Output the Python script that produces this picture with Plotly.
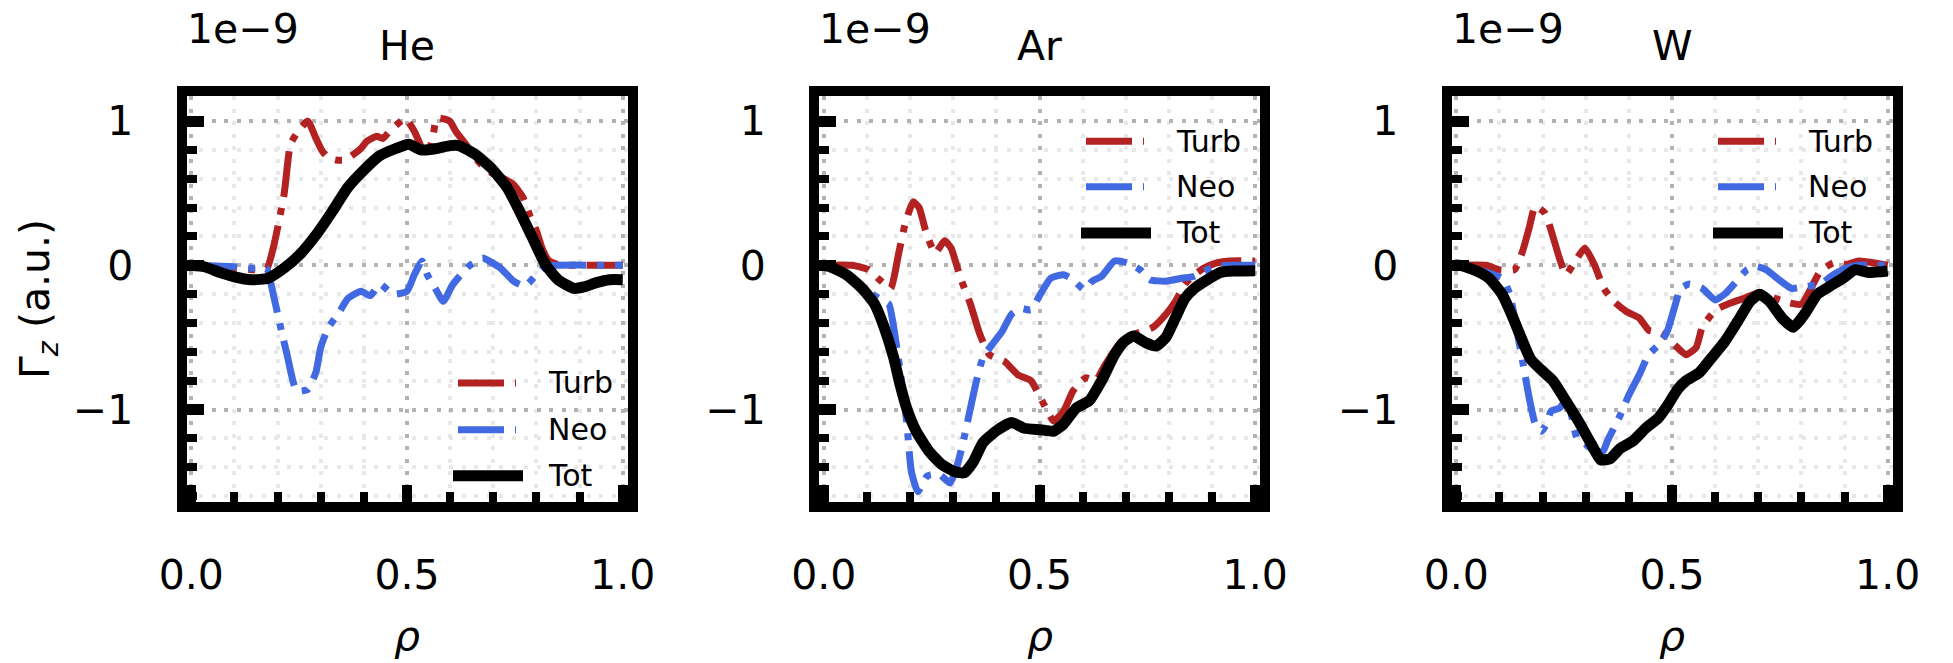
import plotly.graph_objects as go

# ---------------- data (flux profiles, units of 1e-9) ----------------
species = ["He", "Ar", "W"]

he_turb_rho = [0, 0.05, 0.10, 0.14, 0.174, 0.19, 0.215, 0.23, 0.248, 0.27, 0.289, 0.304, 0.318, 0.335,
               0.355, 0.37, 0.393, 0.407, 0.43, 0.444, 0.46, 0.478, 0.496, 0.517, 0.539, 0.55, 0.561,
               0.569, 0.599, 0.613, 0.636, 0.658, 0.68, 0.702, 0.725, 0.747, 0.769, 0.784, 0.80, 0.813,
               0.828, 0.85, 0.9, 0.95, 1.0]
he_turb = [0, -0.01, -0.02, -0.03, -0.03, 0.12, 0.49, 0.84, 0.93, 1.0, 0.88, 0.79, 0.745, 0.73,
           0.73, 0.756, 0.81, 0.86, 0.895, 0.88, 0.93, 0.98, 1.02, 0.93, 0.79, 0.79, 0.91,
           1.02, 1.0, 0.93, 0.84, 0.745, 0.675, 0.63, 0.60, 0.56, 0.47, 0.35, 0.24, 0.12,
           0.035, 0.005, 0.0, 0.0, 0.0]

he_neo_rho = [0, 0.10, 0.14, 0.174, 0.19, 0.207, 0.222, 0.244, 0.27, 0.289, 0.30, 0.318, 0.34, 0.363,
              0.393, 0.415, 0.437, 0.467, 0.50, 0.517, 0.535, 0.547, 0.565, 0.584, 0.606, 0.643, 0.675,
              0.717, 0.747, 0.773, 0.80, 0.82, 0.85, 1.0]
he_neo = [0, -0.01, -0.02, -0.02, -0.2, -0.43, -0.62, -0.87, -0.86, -0.74, -0.57, -0.43, -0.34, -0.23,
          -0.18, -0.21, -0.13, -0.20, -0.18, -0.065, 0.03, -0.065, -0.157, -0.25, -0.134, -0.007, 0.05,
          -0.02, -0.11, -0.145, -0.065, -0.01, 0, 0]

he_tot_rho = [0, 0.03, 0.067, 0.10, 0.14, 0.178, 0.215, 0.25, 0.289, 0.326, 0.363, 0.40, 0.437, 0.474,
              0.504, 0.532, 0.569, 0.60, 0.62, 0.658, 0.695, 0.732, 0.761, 0.791, 0.821, 0.85, 0.887,
              0.91, 0.939, 0.969, 1.0]
he_tot = [0, -0.01, -0.05, -0.08, -0.10, -0.09, -0.02, 0.07, 0.21, 0.37, 0.54, 0.66, 0.76, 0.81,
          0.84, 0.80, 0.81, 0.83, 0.83, 0.77, 0.675, 0.54, 0.375, 0.19, 0.005, -0.10, -0.16,
          -0.15, -0.12, -0.10, -0.10]

ar_turb_rho = [0, 0.066, 0.103, 0.133, 0.155, 0.173, 0.188, 0.207, 0.221, 0.236, 0.258, 0.28, 0.295,
               0.317, 0.34, 0.362, 0.384, 0.42, 0.45, 0.48, 0.506, 0.533, 0.556, 0.578, 0.607, 0.63,
               0.652, 0.689, 0.718, 0.763, 0.793, 0.815, 0.837, 0.859, 0.881, 0.911, 0.94, 1.0]
ar_turb = [0, 0.0, -0.03, -0.11, -0.16, 0.074, 0.28, 0.44, 0.40, 0.24, 0.085, 0.17, 0.12,
           -0.09, -0.27, -0.48, -0.62, -0.67, -0.76, -0.80, -0.94, -1.08, -1.01, -0.87, -0.78, -0.80,
           -0.69, -0.53, -0.48, -0.43, -0.34, -0.25, -0.13, -0.065, -0.02, 0.016, 0.03, 0.03]

ar_neo_rho = [0, 0.05, 0.103, 0.133, 0.151, 0.162, 0.177, 0.192, 0.203, 0.218, 0.24, 0.268, 0.293,
              0.31, 0.325, 0.34, 0.354, 0.369, 0.39, 0.413, 0.435, 0.458, 0.48, 0.502, 0.526, 0.556,
              0.578, 0.604, 0.622, 0.644, 0.674, 0.704, 0.733, 0.756, 0.793, 0.83, 0.859, 0.881,
              0.911, 0.95, 1.0]
ar_neo = [0, -0.06, -0.18, -0.24, -0.27, -0.43, -0.73, -1.08, -1.43, -1.57, -1.46, -1.45, -1.51,
          -1.38, -1.20, -0.99, -0.80, -0.64, -0.55, -0.46, -0.34, -0.30, -0.31, -0.20, -0.09, -0.065,
          -0.10, -0.17, -0.11, -0.076, 0.03, 0.016, -0.03, -0.10, -0.11, -0.09, -0.076, -0.04,
          -0.007, 0, 0]

ar_tot_rho = [0, 0.015, 0.052, 0.089, 0.118, 0.14, 0.162, 0.177, 0.192, 0.214, 0.244, 0.273, 0.303,
              0.325, 0.347, 0.369, 0.399, 0.435, 0.465, 0.502, 0.533, 0.556, 0.585, 0.615, 0.644,
              0.674, 0.696, 0.718, 0.748, 0.77, 0.793, 0.815, 0.837, 0.859, 0.889, 0.919, 0.948, 1.0]
ar_tot = [0, -0.01, -0.065, -0.16, -0.27, -0.43, -0.64, -0.83, -0.99, -1.15, -1.29, -1.38, -1.43,
          -1.44, -1.36, -1.23, -1.15, -1.09, -1.13, -1.14, -1.15, -1.10, -0.99, -0.94, -0.80,
          -0.62, -0.53, -0.49, -0.54, -0.56, -0.50, -0.365, -0.23, -0.16, -0.10, -0.05, -0.04, -0.037]

w_turb_rho = [0, 0.069, 0.098, 0.135, 0.154, 0.169, 0.183, 0.206, 0.22, 0.239, 0.254, 0.276, 0.298,
              0.32, 0.342, 0.365, 0.394, 0.424, 0.446, 0.476, 0.505, 0.533, 0.556, 0.57, 0.592, 0.607,
              0.637, 0.666, 0.703, 0.74, 0.77, 0.8, 0.822, 0.844, 0.874, 0.903, 0.933, 0.97, 1.0]
w_turb = [0, 0.0, -0.03, -0.03, 0.10, 0.26, 0.41, 0.36, 0.24, 0.05, -0.065, 0.03, 0.12,
          0.005, -0.16, -0.25, -0.32, -0.365, -0.45, -0.47, -0.55, -0.62, -0.57, -0.43, -0.34, -0.30,
          -0.26, -0.23, -0.19, -0.23, -0.26, -0.27, -0.16, -0.04, 0.016, 0.005, 0.03, 0.016, 0.0]

w_neo_rho = [0, 0.06, 0.106, 0.124, 0.139, 0.154, 0.169, 0.183, 0.198, 0.209, 0.22, 0.239, 0.257,
             0.28, 0.30, 0.32, 0.34, 0.35, 0.38, 0.40, 0.424, 0.446, 0.476, 0.49, 0.505, 0.52, 0.54,
             0.57, 0.60, 0.622, 0.644, 0.674, 0.696, 0.718, 0.748, 0.777, 0.814, 0.844, 0.874,
             0.903, 0.933, 1.0]
w_neo = [0, -0.04, -0.09, -0.20, -0.43, -0.67, -0.92, -1.10, -1.15, -1.10, -1.01, -0.99, -0.93,
         -1.2, -1.24, -1.29, -1.29, -1.22, -1.04, -0.90, -0.76, -0.62, -0.53, -0.45, -0.30, -0.16,
         -0.13, -0.16, -0.24, -0.20, -0.13, -0.03, -0.007, -0.03, -0.10, -0.16, -0.145, -0.13,
         -0.065, -0.02, 0, 0]

w_tot_rho = [0, 0.01, 0.047, 0.076, 0.106, 0.128, 0.15, 0.172, 0.195, 0.224, 0.254, 0.283, 0.313,
             0.335, 0.357, 0.38, 0.409, 0.439, 0.468, 0.49, 0.513, 0.533, 0.563, 0.592, 0.622,
             0.652, 0.681, 0.703, 0.726, 0.755, 0.781, 0.807, 0.837, 0.866, 0.896, 0.925, 0.955, 1.0]
w_tot = [0, 0, -0.04, -0.09, -0.20, -0.34, -0.50, -0.65, -0.72, -0.80, -0.94, -1.08, -1.24,
         -1.35, -1.34, -1.27, -1.22, -1.13, -1.06, -0.97, -0.86, -0.80, -0.745, -0.64, -0.53,
         -0.39, -0.25, -0.20, -0.25, -0.365, -0.43, -0.34, -0.20, -0.145, -0.09, -0.03, -0.05, -0.04]

component_names = ["Turb", "Neo", "Tot"]
profiles = {
    "He": [(he_turb_rho, he_turb), (he_neo_rho, he_neo), (he_tot_rho, he_tot)],
    "Ar": [(ar_turb_rho, ar_turb), (ar_neo_rho, ar_neo), (ar_tot_rho, ar_tot)],
    "W": [(w_turb_rho, w_turb), (w_neo_rho, w_neo), (w_tot_rho, w_tot)],
}

# ---------------- styling ----------------
W, H = 1953, 663
FONT = "DejaVu Sans"
RED, BLUE, BLACK = "#B22222", "#4169E1", "#000000"
DASHDOT = "46px,11px,7px,11px"
styles = [dict(color=RED, width=7, dash=DASHDOT),
          dict(color=BLUE, width=7, dash=DASHDOT),
          dict(color=BLACK, width=11, dash="solid")]

SPINE = 10
panel_x0 = [181.5, 814.0, 1446.5]   # pixel of rho = 0 (spine centre)
panel_w = 451.0
y_zero_px, y_unit_px = 265.3, 144.2
inner_top, inner_bot = 96.0, 502.0
y_rng = [-(inner_bot - y_zero_px) / y_unit_px, (y_zero_px - inner_top) / y_unit_px]
pad = (SPINE / 2) / panel_w
x_rng = [-pad, 1 + pad]

legend_pos = {  # left end of handle, rows' y (px)
    "He": (458, [383, 429.7, 475.7]),
    "Ar": (1086, [141.3, 186.8, 233]),
    "W": (1718, [141.3, 186.8, 233]),
}

fig = go.Figure()
shapes, annotations = [], []

grid_major = dict(showgrid=True, gridcolor="#b3b3b3", griddash="4px,8.5px", gridwidth=4)
grid_minor = dict(showgrid=True, gridcolor="#e8e8e8", griddash="4px,8.5px", gridwidth=4)

for i, sp in enumerate(species):
    n = "" if i == 0 else str(i + 1)
    x0 = panel_x0[i]
    dom_x = [(x0 + SPINE / 2) / W, (x0 + panel_w - SPINE / 2) / W]
    for (rho, val), st in zip(profiles[sp], styles):
        fig.add_trace(go.Scatter(
            x=rho, y=val, mode="lines", xaxis="x" + n, yaxis="y" + n,
            line=dict(color=st["color"], width=st["width"], dash=st["dash"],
                      shape="spline", smoothing=0.5),
            showlegend=False, hoverinfo="skip"))

    fig.layout["xaxis" + n] = dict(
        domain=dom_x, range=x_rng, anchor="y" + n, automargin=False,
        tick0=0, dtick=0.5, tickformat=".1f",
        ticks="inside", ticklen=17, tickwidth=10, tickcolor="black",
        showline=True, linewidth=SPINE, linecolor="black", mirror=True,
        zeroline=False, ticklabelstandoff=28,
        tickfont=dict(family=FONT, size=41, color="black"),
        minor=dict(dtick=0.1, tick0=0, ticks="inside", ticklen=10, tickwidth=8,
                   tickcolor="black", **grid_minor),
        **grid_major)
    fig.layout["yaxis" + n] = dict(
        domain=[1 - inner_bot / H, 1 - inner_top / H], range=y_rng, anchor="x" + n,
        automargin=False, tick0=0, dtick=1,
        ticks="inside", ticklen=17, tickwidth=11, tickcolor="black",
        showline=True, linewidth=SPINE, linecolor="black", mirror=True,
        zeroline=False, ticklabelstandoff=35,
        tickfont=dict(family=FONT, size=41, color="black"),
        minor=dict(dtick=0.2, tick0=0, ticks="inside", ticklen=10, tickwidth=8,
                   tickcolor="black", **grid_minor),
        **grid_major)

    cx = x0 + panel_w / 2
    # title, offset text and x label
    annotations.append(dict(text=sp, x=cx / W, y=1 - 46 / H, xref="paper", yref="paper",
                            xanchor="center", yanchor="middle", showarrow=False,
                            font=dict(family=FONT, size=41, color="black")))
    annotations.append(dict(text="1e\u22129", x=(x0 + 3) / W, y=1 - 29.5 / H, xref="paper",
                            yref="paper", xanchor="left", yanchor="middle", showarrow=False,
                            font=dict(family=FONT, size=41, color="black")))
    annotations.append(dict(text="<i>\u03c1</i>", x=cx / W, y=1 - 636 / H, xref="paper",
                            yref="paper", xanchor="center", yanchor="middle", showarrow=False,
                            font=dict(family=FONT, size=41, color="black")))

    # legend
    lx, rows = legend_pos[sp]
    for name, st, ry in zip(component_names, styles, rows):
        if st["dash"] == "solid":
            xs, xe = lx - 5, lx + 65
        else:
            xs, xe = lx, lx + 58
        shapes.append(dict(type="line", xref="paper", yref="paper",
                           x0=xs / W, x1=xe / W, y0=1 - ry / H, y1=1 - ry / H,
                           line=dict(color=st["color"], width=st["width"], dash=st["dash"])))
        annotations.append(dict(text=name, x=(lx + 88) / W, y=1 - ry / H, xref="paper",
                                yref="paper", xanchor="left", yanchor="middle", showarrow=False,
                                font=dict(family=FONT, size=30, color="black")))

annotations.append(dict(text="\u0393<sub><i>z</i></sub> (a.u.)", x=38 / W, y=1 - 299 / H,
                        xref="paper", yref="paper", xanchor="center", yanchor="middle",
                        textangle=-90, showarrow=False,
                        font=dict(family=FONT, size=41, color="black")))

fig.update_layout(width=W, height=H, margin=dict(l=0, r=0, t=0, b=0),
                  paper_bgcolor="white", plot_bgcolor="white",
                  shapes=shapes, annotations=annotations,
                  font=dict(family=FONT, color="black"))

fig.write_html("out.html")
